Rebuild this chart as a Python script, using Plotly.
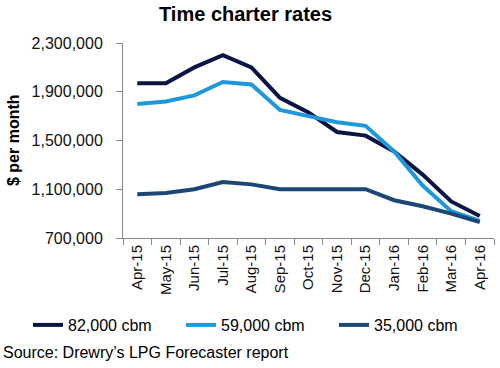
import plotly.graph_objects as go

months = ["Apr-15", "May-15", "Jun-15", "Jul-15", "Aug-15", "Sep-15", "Oct-15",
          "Nov-15", "Dec-15", "Jan-16", "Feb-16", "Mar-16", "Apr-16"]
cbm82 = [1970000, 1970000, 2100000, 2200000, 2100000, 1850000, 1730000,
         1570000, 1540000, 1410000, 1220000, 1000000, 880000]
cbm59 = [1800000, 1820000, 1870000, 1980000, 1960000, 1750000, 1700000,
         1650000, 1620000, 1410000, 1130000, 920000, 840000]
cbm35 = [1060000, 1070000, 1100000, 1160000, 1140000, 1100000, 1100000,
         1100000, 1100000, 1010000, 960000, 900000, 830000]
y_ticks = [700000, 1100000, 1500000, 1900000, 2300000]

FONT = "Arial, Liberation Sans, sans-serif"
L, R, T, B = 123, 6, 43, 130
W, H = 500, 368
pw, ph = W - L - R, H - T - B


def px(x):
    return (x - L) / pw


def py(y):
    return (H - B - y) / ph


fig = go.Figure()
for name, vals, col in [("82,000 cbm", cbm82, "#0c1446"),
                        ("59,000 cbm", cbm59, "#1d98dc"),
                        ("35,000 cbm", cbm35, "#1c4775")]:
    fig.add_trace(go.Scatter(x=months, y=vals, mode="lines", name=name,
                             line=dict(color=col, width=4)))

fig.update_layout(
    width=W, height=H,
    margin=dict(l=L, r=R, t=T, b=B, autoexpand=False),
    paper_bgcolor="white", plot_bgcolor="white",
    font=dict(family=FONT, size=16, color="#111111"),
    showlegend=True,
    legend=dict(orientation="h", x=px(28), xanchor="left", y=py(325), yanchor="middle",
                font=dict(size=16, color="#000000"), entrywidth=108, entrywidthmode="pixels",
                tracegroupgap=0, bgcolor="rgba(0,0,0,0)", borderwidth=0),
    annotations=[
        dict(text="<b>Time charter rates</b>", x=px(245), y=py(14), xref="paper", yref="paper",
             xanchor="center", yanchor="middle",
             showarrow=False, font=dict(size=20, color="#000000")),
        dict(text="<b>$ per month</b>", textangle=-90, x=px(13), y=py(140), xref="paper",
             yref="paper", xanchor="center", yanchor="middle",
             showarrow=False, font=dict(size=16, color="#000000")),
        dict(text="Source: Drewry\u2019s LPG Forecaster report", x=px(1), y=py(352),
             xref="paper", yref="paper", showarrow=False, xanchor="left", yanchor="middle",
             font=dict(size=16, color="#000000")),
    ],
)

fig.update_xaxes(type="category", showgrid=False, showline=True, linecolor="#888888",
                 linewidth=1, ticks="outside", tickson="boundaries", ticklen=6,
                 tickcolor="#888888", tickangle=-90, tickfont=dict(size=15, color="#111111"),
                 range=[-0.5, 12.5], automargin=False)
fig.update_yaxes(range=[700000, 2300000], tickvals=y_ticks, tickformat=",",
                 showgrid=False, showline=True, linecolor="#888888", linewidth=1,
                 ticks="outside", ticklen=6, tickcolor="#888888", zeroline=False,
                 ticklabelstandoff=10,
                 tickfont=dict(size=16, color="#111111"), automargin=False)

fig.write_html("out.html", config={"displayModeBar": False},
               post_script="document.body.style.margin='0';")
